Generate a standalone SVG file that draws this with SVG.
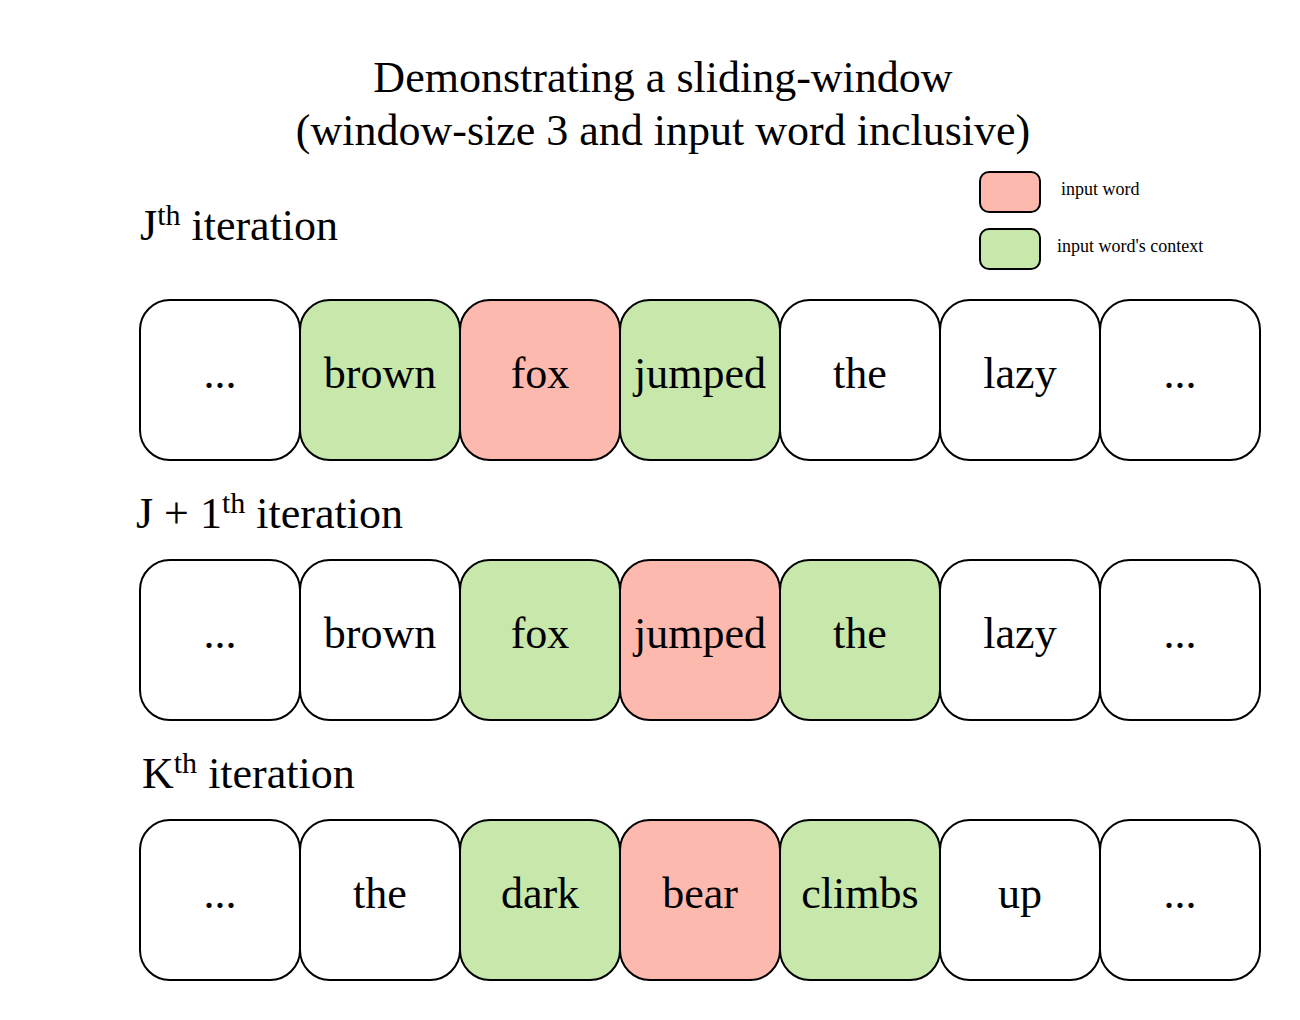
<svg xmlns="http://www.w3.org/2000/svg" width="1300" height="1020" viewBox="0 0 1300 1020">
<style>
text{font-family:"Liberation Serif","Times New Roman",serif;fill:#000}
.t{font-size:44px;text-anchor:middle}
.w{font-size:44px;text-anchor:middle}
.l{font-size:44px}
.s{font-size:30px}
.lg{font-size:18px}
.b{stroke:#000;stroke-width:2}
.n{fill:#fff}
.g{fill:#c7e7ab}
.p{fill:#fdb9ae}
</style>
<rect width="1300" height="1020" fill="#fff"/>
<g id="title">
<text class="t" x="663" y="92">Demonstrating a sliding-window</text>
<text class="t" x="663" y="145">(window-size 3 and input word inclusive)</text>
</g>
<g id="legend">
<rect class="b p" x="980" y="172" width="60" height="40" rx="9"/>
<text class="lg" x="1061" y="195">input word</text>
<rect class="b g" x="980" y="229" width="60" height="40" rx="9"/>
<text class="lg" x="1057" y="252">input word's context</text>
</g>
<g id="label-j"><text class="l" x="140" y="240">J<tspan class="s" dy="-15">th</tspan><tspan dy="15"> iteration</tspan></text></g>
<g id="label-j1"><text class="l" x="136" y="528">J + 1<tspan class="s" dy="-15">th</tspan><tspan dy="15"> iteration</tspan></text></g>
<g id="label-k"><text class="l" x="142" y="788">K<tspan class="s" dy="-15">th</tspan><tspan dy="15"> iteration</tspan></text></g>
<g id="row1">
<g id="r1c1"><rect class="b n" x="140" y="300" width="160" height="160" rx="30"/><text class="w" x="220" y="388">...</text></g>
<g id="r1c2"><rect class="b g" x="300" y="300" width="160" height="160" rx="30"/><text class="w" x="380" y="388">brown</text></g>
<g id="r1c3"><rect class="b p" x="460" y="300" width="160" height="160" rx="30"/><text class="w" x="540" y="388">fox</text></g>
<g id="r1c4"><rect class="b g" x="620" y="300" width="160" height="160" rx="30"/><text class="w" x="700" y="388">jumped</text></g>
<g id="r1c5"><rect class="b n" x="780" y="300" width="160" height="160" rx="30"/><text class="w" x="860" y="388">the</text></g>
<g id="r1c6"><rect class="b n" x="940" y="300" width="160" height="160" rx="30"/><text class="w" x="1020" y="388">lazy</text></g>
<g id="r1c7"><rect class="b n" x="1100" y="300" width="160" height="160" rx="30"/><text class="w" x="1180" y="388">...</text></g>
</g>
<g id="row2">
<g id="r2c1"><rect class="b n" x="140" y="560" width="160" height="160" rx="30"/><text class="w" x="220" y="648">...</text></g>
<g id="r2c2"><rect class="b n" x="300" y="560" width="160" height="160" rx="30"/><text class="w" x="380" y="648">brown</text></g>
<g id="r2c3"><rect class="b g" x="460" y="560" width="160" height="160" rx="30"/><text class="w" x="540" y="648">fox</text></g>
<g id="r2c4"><rect class="b p" x="620" y="560" width="160" height="160" rx="30"/><text class="w" x="700" y="648">jumped</text></g>
<g id="r2c5"><rect class="b g" x="780" y="560" width="160" height="160" rx="30"/><text class="w" x="860" y="648">the</text></g>
<g id="r2c6"><rect class="b n" x="940" y="560" width="160" height="160" rx="30"/><text class="w" x="1020" y="648">lazy</text></g>
<g id="r2c7"><rect class="b n" x="1100" y="560" width="160" height="160" rx="30"/><text class="w" x="1180" y="648">...</text></g>
</g>
<g id="row3">
<g id="r3c1"><rect class="b n" x="140" y="820" width="160" height="160" rx="30"/><text class="w" x="220" y="908">...</text></g>
<g id="r3c2"><rect class="b n" x="300" y="820" width="160" height="160" rx="30"/><text class="w" x="380" y="908">the</text></g>
<g id="r3c3"><rect class="b g" x="460" y="820" width="160" height="160" rx="30"/><text class="w" x="540" y="908">dark</text></g>
<g id="r3c4"><rect class="b p" x="620" y="820" width="160" height="160" rx="30"/><text class="w" x="700" y="908">bear</text></g>
<g id="r3c5"><rect class="b g" x="780" y="820" width="160" height="160" rx="30"/><text class="w" x="860" y="908">climbs</text></g>
<g id="r3c6"><rect class="b n" x="940" y="820" width="160" height="160" rx="30"/><text class="w" x="1020" y="908">up</text></g>
<g id="r3c7"><rect class="b n" x="1100" y="820" width="160" height="160" rx="30"/><text class="w" x="1180" y="908">...</text></g>
</g>
<g id="connectors"></g>
</svg>
